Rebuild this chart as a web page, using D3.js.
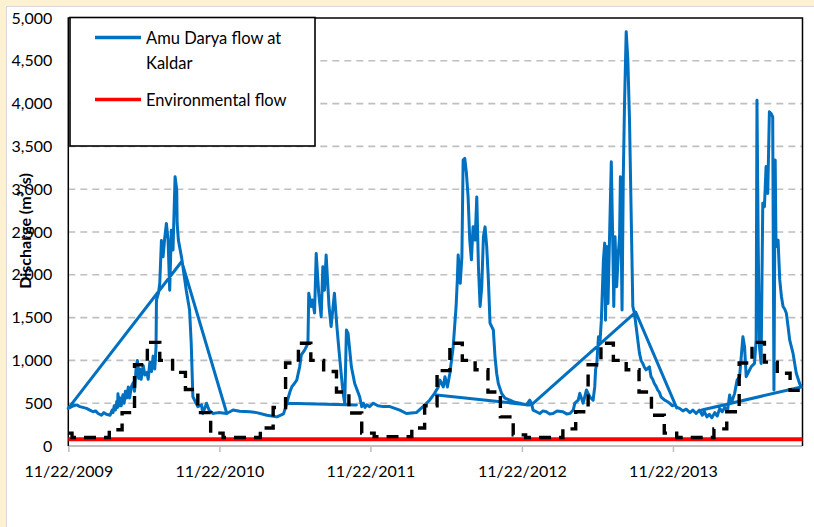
<!DOCTYPE html>
<html>
<head>
<meta charset="utf-8">
<script src="https://cdn.jsdelivr.net/npm/d3@7"></script>
<style>
  body { margin: 0; background: #fff; }
  svg { display: block; }
  text { font-family: Lato, "Open Sans", sans-serif; fill: #000; }
</style>
</head>
<body>
<svg id="chart" width="814" height="527"></svg>
<script>
// ---- data ---------------------------------------------------------------

// Amu Darya discharge at Kaldar (m³/s), in row order; null breaks the line
const kaldarFlow = [
  ["2009-11-22", 440], ["2009-12-05", 470], ["2009-12-12", 480], ["2009-12-20", 460],
  ["2010-01-05", 440], ["2010-01-13", 420], ["2010-01-21", 400], ["2010-01-27", 410],
  ["2010-02-02", 380], ["2010-02-10", 360], ["2010-02-16", 390], ["2010-02-22", 370],
  ["2010-03-03", 360], ["2010-03-08", 420], ["2010-03-10", 390], ["2010-03-13", 470],
  ["2010-03-16", 420], ["2010-03-19", 520], ["2010-03-21", 450], ["2010-03-22", 610],
  ["2010-03-25", 470], ["2010-03-27", 560], ["2010-03-30", 470], ["2010-04-03", 600],
  ["2010-04-06", 500], ["2010-04-09", 640], ["2010-04-12", 560], ["2010-04-16", 690],
  ["2010-04-19", 560], ["2010-04-24", 700], ["2010-04-28", 740], ["2010-05-01", 640],
  ["2010-05-05", 925], ["2010-05-08", 1000], ["2010-05-11", 790], ["2010-05-14", 900],
  ["2010-05-17", 780], ["2010-05-22", 940], ["2010-05-26", 830], ["2010-05-31", 860],
  ["2010-06-03", 780], ["2010-06-07", 980], ["2010-06-11", 870], ["2010-06-15", 1050],
  ["2010-06-19", 900], ["2010-06-22", 1160], ["2010-06-23", 1705],
  ["2010-06-28", 1790], ["2010-07-01", 1900], ["2010-07-05", 2400], ["2010-07-09", 2210],
  ["2010-07-13", 2430], ["2010-07-17", 2600], ["2010-07-21", 2410], ["2010-07-25", 1820],
  ["2010-07-29", 2520], ["2010-08-02", 2290], ["2010-08-07", 3145], ["2010-08-11", 2990],
  ["2010-08-12", 2600], ["2010-08-15", 2405], ["2010-08-23", 2195], ["2010-09-03", 1820],
  ["2010-09-11", 1590], ["2010-09-15", 1200], ["2010-09-19", 575], ["2010-10-01", 460],
  ["2010-10-10", 480], ["2010-10-13", 380], ["2010-10-22", 500], ["2010-10-28", 420],
  ["2010-11-06", 380], ["2010-11-20", 390], ["2010-12-10", 380], ["2010-12-25", 420],
  ["2011-01-10", 405], ["2011-02-04", 400], ["2011-02-20", 390],
  ["2011-03-17", 360], ["2011-04-10", 340], ["2011-04-26", 375], ["2011-05-04", 500],
  ["2011-05-08", 575], ["2011-05-12", 640], ["2011-05-16", 690], ["2011-05-22", 730],
  ["2011-05-28", 770], ["2011-06-04", 925],
  ["2011-06-08", 1065], ["2011-06-16", 1120], ["2011-06-24", 1200], ["2011-06-26", 1785],
  ["2011-07-02", 1630], ["2011-07-05", 1705], ["2011-07-10", 1555], ["2011-07-14", 2250],
  ["2011-07-20", 1785], ["2011-07-26", 1510], ["2011-07-30", 2095], ["2011-08-03", 1820],
  ["2011-08-07", 2230], ["2011-08-14", 1630], ["2011-08-19", 1395], ["2011-08-27", 1785],
  ["2011-09-02", 1395], ["2011-09-07", 1120], ["2011-09-13", 810], ["2011-09-17", 615],
  ["2011-09-21", 500], ["2011-09-25", 1355], ["2011-09-29", 1315], ["2011-10-07", 925],
  ["2011-10-15", 730], ["2011-10-27", 575], ["2011-11-01", 460], ["2011-11-05", 500],
  ["2011-11-09", 450], ["2011-11-13", 480], ["2011-11-20", 460], ["2011-11-29", 500],
  ["2011-12-10", 470], ["2011-12-23", 460], ["2012-01-08", 460],
  ["2012-02-01", 420], ["2012-02-17", 380], ["2012-03-12", 390], ["2012-03-28", 460],
  ["2012-04-13", 535], ["2012-04-25", 615], ["2012-05-04", 690], ["2012-05-08", 770],
  ["2012-05-16", 690], ["2012-05-20", 810], ["2012-05-26", 690], ["2012-06-01", 850],
  ["2012-06-09", 1160], ["2012-06-16", 1630], ["2012-06-19", 1940], ["2012-06-21", 2230],
  ["2012-06-26", 1900], ["2012-06-30", 2210], ["2012-07-03", 3340], ["2012-07-07", 3360],
  ["2012-07-11", 3185], ["2012-07-15", 2910], ["2012-07-19", 2405], ["2012-07-23", 2175],
  ["2012-07-27", 2560], ["2012-08-01", 2405], ["2012-08-05", 2910], ["2012-08-09", 2095],
  ["2012-08-13", 1630], ["2012-08-17", 1860], ["2012-08-21", 2445], ["2012-08-25", 2560],
  ["2012-08-29", 2330], ["2012-09-02", 1940], ["2012-09-06", 1435], ["2012-09-14", 1355],
  ["2012-09-18", 1045], ["2012-09-22", 850], ["2012-09-26", 730], ["2012-10-04", 615],
  ["2012-10-12", 560], ["2012-10-24", 535], ["2012-11-05", 510], ["2012-11-17", 500],
  ["2012-12-03", 480], ["2012-12-11", 535],
  ["2012-12-15", 500], ["2012-12-19", 420], ["2012-12-27", 400], ["2013-01-04", 380],
  ["2013-01-12", 410], ["2013-01-20", 400], ["2013-01-28", 375],
  ["2013-02-05", 380], ["2013-02-15", 410], ["2013-03-01", 400], ["2013-03-10", 375],
  ["2013-03-18", 380], ["2013-03-26", 420],
  ["2013-03-30", 500], ["2013-04-07", 535], ["2013-04-11", 615], ["2013-04-19", 500],
  ["2013-04-27", 655], ["2013-05-05", 575], ["2013-05-13", 535], ["2013-05-17", 690],
  ["2013-05-19", 890], ["2013-05-22", 965], ["2013-05-26", 1275], ["2013-05-30", 1240],
  ["2013-06-02", 1470], ["2013-06-07", 2175], ["2013-06-10", 2370], ["2013-06-12", 1470],
  ["2013-06-15", 2330], ["2013-06-18", 1665], ["2013-06-22", 2485], ["2013-06-26", 3320],
  ["2013-06-30", 2250], ["2013-07-02", 1630], ["2013-07-05", 2445], ["2013-07-09", 1860],
  ["2013-07-13", 2250], ["2013-07-16", 2445], ["2013-07-18", 3145], ["2013-07-22", 1590],
  ["2013-07-25", 3145], ["2013-07-28", 4005], ["2013-08-01", 4840], ["2013-08-05", 4510],
  ["2013-08-09", 3810], ["2013-08-17", 1630], ["2013-08-21", 1550], ["2013-08-25", 1395],
  ["2013-09-02", 1085], ["2013-09-06", 1000], ["2013-09-10", 965], ["2013-09-14", 920],
  ["2013-09-18", 890], ["2013-09-26", 925],
  ["2013-09-30", 810], ["2013-10-04", 780], ["2013-10-08", 730], ["2013-10-12", 700],
  ["2013-10-16", 655], ["2013-10-20", 630], ["2013-10-24", 575],
  ["2013-11-02", 535], ["2013-11-08", 520], ["2013-11-14", 500], ["2013-11-20", 470],
  ["2013-11-26", 480], ["2013-12-02", 450], ["2013-12-08", 440],
  ["2013-12-16", 410], ["2013-12-24", 430], ["2014-01-02", 390], ["2014-01-09", 420],
  ["2014-01-17", 380], ["2014-01-25", 420], ["2014-02-01", 360], ["2014-02-06", 400],
  ["2014-02-12", 340], ["2014-02-18", 370], ["2014-02-24", 330], ["2014-03-03", 390],
  ["2014-03-09", 350], ["2014-03-15", 440], ["2014-03-21", 400], ["2014-03-27", 450],
  ["2014-04-03", 420], ["2014-04-08", 595], ["2014-04-12", 500], ["2014-04-20", 615],
  ["2014-04-26", 770],
  ["2014-05-02", 810], ["2014-05-06", 1045], ["2014-05-10", 1275], ["2014-05-14", 1160],
  ["2014-05-18", 810], ["2014-05-22", 850], ["2014-05-30", 925], ["2014-06-07", 965],
  ["2014-06-11", 1240], ["2014-06-13", 4040], ["2014-06-16", 2330], ["2014-06-19", 1160],
  ["2014-06-23", 965], ["2014-06-27", 2835], ["2014-07-01", 2795], ["2014-07-05", 3265],
  ["2014-07-09", 2950], ["2014-07-13", 3905], ["2014-07-17", 3885], ["2014-07-21", 3845],
  ["2014-07-24", 655], ["2014-07-27", 3340], ["2014-07-29", 2330], ["2014-08-03", 2405],
  ["2014-08-07", 1940], ["2014-08-11", 1750], ["2014-08-15", 1630], ["2014-08-19", 1600],
  ["2014-08-23", 1550], ["2014-08-27", 1400], ["2014-08-31", 1240],
  ["2014-09-08", 1085], ["2014-09-16", 850], ["2014-09-24", 730], ["2014-09-28", 690],
  null,
  ["2009-11-22", 440], ["2010-08-23", 2155], ["2010-12-10", 380],
  null,
  ["2011-05-04", 500], ["2011-10-19", 480],
  null,
  ["2012-04-30", 595], ["2012-12-10", 480],
  null,
  ["2012-12-15", 480], ["2013-08-24", 1565], ["2013-12-01", 445],
  null,
  ["2014-01-31", 420], ["2014-09-28", 690]
];

// Monthly flow (m³/s): first value from 22 Nov 2009, then one per month Dec 2009 – Sep 2014
const monthlyFlow = [
  150, 100,
  100, 100, 190, 390, 950, 1210, 1000, 860, 660, 390, 150, 100,
  100, 100, 210, 450, 970, 1200, 1000, 870, 630, 385, 150, 110,
  110, 110, 210, 470, 880, 1200, 1000, 890, 630, 340, 130, 100,
  100, 100, 200, 400, 950, 1200, 1000, 890, 630, 360, 150, 100,
  100, 100, 200, 400, 970, 1210, 980, 850, 650
];

// Environmental flow (m³/s)
const environmentalFlow = [["2009-11-22", 80], ["2014-10-01", 80]];

const periodStart = "2009-11-22";
const periodEnd = "2014-10-01";
const xTickDates = ["2009-11-22", "2010-11-22", "2011-11-22", "2012-11-22", "2013-11-22"];
const yTickValues = [0, 500, 1000, 1500, 2000, 2500, 3000, 3500, 4000, 4500, 5000];

const legendItems = [
  { lines: ["Amu Darya flow at", "Kaldar"], color: "#0070C0" },
  { lines: ["Environmental flow"], color: "#FF0000" }
];

// ---- drawing ------------------------------------------------------------

const parse = d3.timeParse("%Y-%m-%d");
const svg = d3.select("#chart");

// page frame
svg.append("rect").attr("width", 814).attr("height", 527).attr("fill", "#FDF1D3");
svg.append("rect").attr("x", 6.5).attr("y", 6.5).attr("width", 820).attr("height", 540)
  .attr("fill", "#fff").attr("stroke", "#D9D9D9");

const plot = { left: 68.3, right: 802.5, top: 18, bottom: 446 };

const x = d3.scaleTime()
  .domain([parse(periodStart), parse(periodEnd)])
  .range([plot.left, plot.right]);
const y = d3.scaleLinear().domain([0, 5000]).range([plot.bottom, plot.top]);

// horizontal gridlines
svg.append("g").selectAll("line")
  .data(yTickValues.filter(v => v > 0 && v < 5000))
  .join("line")
  .attr("x1", plot.left).attr("x2", plot.right)
  .attr("y1", d => y(d)).attr("y2", d => y(d))
  .attr("stroke", "#BFBFBF").attr("stroke-width", 1.6)
  .attr("stroke-dasharray", "7,5");

// y axis
const yAxis = svg.append("g")
  .attr("transform", `translate(${plot.left},0)`)
  .call(d3.axisLeft(y).tickValues(yTickValues).tickSize(0).tickPadding(16)
    .tickFormat(d3.format(",")));
yAxis.select(".domain").remove();
yAxis.selectAll("text").style("font-size", "16px").attr("fill", "#000");

// x axis
const xAxis = svg.append("g")
  .attr("transform", `translate(0,${plot.bottom})`)
  .call(d3.axisBottom(x).tickValues(xTickDates.map(parse)).tickSize(6).tickPadding(14)
    .tickFormat(d3.timeFormat("%m/%d/%Y")));
xAxis.select(".domain").attr("stroke", "#BFBFBF").attr("stroke-width", 2)
  .attr("d", `M${plot.left},0H${plot.right}`);
xAxis.selectAll(".tick line").attr("stroke", "#BFBFBF").attr("stroke-width", 1.5);
xAxis.selectAll("text").style("font-size", "16px").attr("fill", "#000");

// plot border (left, top, right)
svg.append("path")
  .attr("d", `M${plot.left},${plot.bottom}V${plot.top}H${plot.right}V${plot.bottom}`)
  .attr("fill", "none").attr("stroke", "#000").attr("stroke-width", 1.5);

// Kaldar discharge
const flowLine = d3.line()
  .defined(d => d !== null)
  .x(d => x(parse(d[0])))
  .y(d => y(d[1]));
svg.append("path")
  .datum(kaldarFlow)
  .attr("d", flowLine)
  .attr("fill", "none").attr("stroke", "#0070C0").attr("stroke-width", 3)
  .attr("stroke-linejoin", "round").attr("stroke-linecap", "round");

// environmental flow
svg.append("path")
  .datum(environmentalFlow)
  .attr("d", d3.line().x(d => x(parse(d[0]))).y(d => y(d[1])))
  .attr("fill", "none").attr("stroke", "#FF0000").attr("stroke-width", 4);

// monthly flow as a dashed step line
const monthDates = [parse(periodStart)].concat(
  d3.timeMonth.range(new Date(2009, 11, 1), parse(periodEnd)));
const monthly = monthlyFlow.map((v, i) => [monthDates[i], v]);
monthly.push([parse(periodEnd), monthlyFlow[monthlyFlow.length - 1]]);
svg.append("path")
  .datum(monthly)
  .attr("d", d3.line().curve(d3.curveStepAfter).x(d => x(d[0])).y(d => y(d[1])))
  .attr("fill", "none").attr("stroke", "#000").attr("stroke-width", 3.4)
  .attr("stroke-dasharray", "12,8");

// y axis title
svg.append("text")
  .attr("transform", "translate(30.5,231) rotate(-90)")
  .attr("text-anchor", "middle")
  .style("font-size", "16px").style("font-weight", "bold")
  .text("Discharge (m³/s)");

// legend
const legend = svg.append("g");
legend.append("rect")
  .attr("x", 70).attr("y", 17.5).attr("width", 245).attr("height", 128.5)
  .attr("fill", "#fff").attr("stroke", "#000").attr("stroke-width", 1.6);
const rowY = [37.5, 99.5];
legendItems.forEach((item, i) => {
  legend.append("line")
    .attr("x1", 95).attr("x2", 141).attr("y1", rowY[i]).attr("y2", rowY[i])
    .attr("stroke", item.color).attr("stroke-width", 3.5);
  item.lines.forEach((t, j) => {
    legend.append("text")
      .attr("x", 146).attr("y", rowY[i] + 6 + j * 25)
      .style("font-size", "16.5px")
      .text(t);
  });
});
</script>
</body>
</html>
